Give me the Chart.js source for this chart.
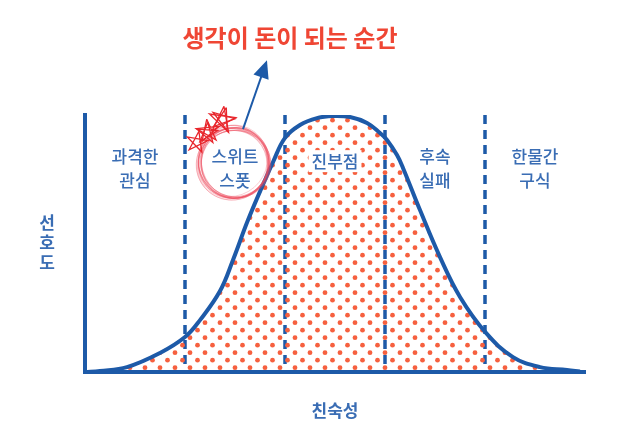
<!DOCTYPE html>
<html lang="ko">

<head>
  <meta charset="UTF-8">
  <title>친숙성과 선호도</title>
  <script src="https://cdn.jsdelivr.net/npm/chart.js"></script>
  <style>
    body { margin: 0; background: #fff; }
  </style>
</head>

<body>
  <canvas id="curveChart" width="625" height="431"></canvas>
  <script>
    // familiarity (x) and preference (y)
    const familiarity = [0, 0.3, 0.84, 1.5, 2.0, 2.3, 2.7, 2.96, 3.26, 3.6, 3.76, 4.0, 4.3, 4.64, 4.96, 5.3, 5.64, 5.9, 6.04, 6.24, 6.36, 6.7, 7.1, 7.5, 8.02, 8.56, 9.1, 9.64, 9.9]
    const preference = [0, 0.4, 1.9, 7.4, 13.6, 20.2, 31.5, 43.6, 59.1, 74.7, 81.7, 91.1, 96.1, 98.8, 99.6, 99.2, 96.9, 93.0, 90.3, 84.4, 79.4, 63.0, 44.7, 29.2, 15.2, 5.8, 1.9, 0.8, 0.2]
    const boundaries = [2, 4, 6, 8]
    const regionCenters = [1, 3, 5, 7, 9]
    const regionLabels = [['과격한', '관심'], ['스위트', '스폿'], ['진부점'], ['후속', '실패'], ['한물간', '구식']]
    const titleText = '생각이 돈이 되는 순간'
    const xTitle = '친숙성'
    const yTitle = ['선', '호', '도']

    const BLUE = '#1d5aa8'
    const TEXT_BLUE = '#3a6db4'
    const RED = '#ef4634'
    const FONT = '"Noto Sans CJK KR", "Noto Sans", sans-serif'

    // dotted fill, staggered rows
    const tile = document.createElement('canvas')
    tile.width = 15
    tile.height = 15
    const tctx = tile.getContext('2d')
    tctx.fillStyle = '#f6603f'
    ;[[10, 7.7], [2.5, 0.2]].forEach(([x, y]) => {
      for (const dx of [-15, 0, 15]) for (const dy of [-15, 0, 15]) {
        tctx.beginPath()
        tctx.arc(x + dx, y + dy, 2.4, 0, Math.PI * 2)
        tctx.fill()
      }
    })
    const ctx = document.getElementById('curveChart').getContext('2d')
    const dots = ctx.createPattern(tile, 'repeat')

    const star = (c, cx, cy, r, rot) => {
      c.beginPath()
      for (let k = 0; k <= 5; k++) {
        const a = (rot - 90 + k * 144) * Math.PI / 180
        const px = cx + r * Math.cos(a), py = cy + r * Math.sin(a)
        k === 0 ? c.moveTo(px, py) : c.lineTo(px, py)
      }
      c.stroke()
    }

    const overlay = {
      id: 'overlay',
      afterDraw(chart) {
        const c = chart.ctx
        const xs = chart.scales.x, ys = chart.scales.y
        c.save()
        c.textAlign = 'center'
        c.textBaseline = 'middle'

        // headline
        c.fillStyle = RED
        c.font = `bold 24px ${FONT}`
        c.fillText(titleText, xs.getPixelForValue(4.1), 38)

        // region labels
        c.font = `500 17px ${FONT}`
        regionLabels.forEach((lines, i) => {
          const px = xs.getPixelForValue(regionCenters[i])
          const top = ys.getPixelForValue(84) + (lines.length === 1 ? 5 : 0)
          lines.forEach((t, j) => {
            const w = c.measureText(t).width
            if (lines.length === 1) {
              c.fillStyle = '#fff'
              c.fillRect(px - w / 2 - 3, top + j * 24 - 11, w + 6, 22)
            }
            c.fillStyle = TEXT_BLUE
            c.fillText(t, px, top + j * 24)
          })
        })

        // axis titles
        c.font = `600 17px ${FONT}`
        c.fillText(xTitle, xs.getPixelForValue(5), chart.chartArea.bottom + 39)
        yTitle.forEach((t, j) => c.fillText(t, chart.chartArea.left - 38, ys.getPixelForValue(58) + j * 20))

        // sweet spot circle
        const cx = xs.getPixelForValue(2.98), cy = ys.getPixelForValue(81.3)
        c.lineWidth = 0.8
        for (let i = 0; i < 18; i++) {
          c.strokeStyle = 'rgba(235, 75, 95, 0.35)'
          c.beginPath()
          c.ellipse(cx + Math.sin(i * 1.7) * 1.4, cy + Math.cos(i * 2.3) * 1.4, 33 + (i % 5) * 0.9, 34 + (i % 4) * 0.9, i * 0.4, 0, Math.PI * 2)
          c.stroke()
        }

        // stars
        c.strokeStyle = '#e8262c'
        c.lineWidth = 1.3
        const sx = xs.getPixelForValue(2.74), sy = ys.getPixelForValue(98)
        star(c, sx, sy, 14, 8)
        star(c, sx + 1, sy - 1, 12, 16)
        star(c, sx - 14, sy + 11, 12, -6)
        star(c, sx - 15, sy + 13, 11, 4)
        star(c, sx - 25, sy + 22, 11, 10)

        // arrow
        const ax = xs.getPixelForValue(3.16), ay = ys.getPixelForValue(94.5)
        const bx = xs.getPixelForValue(3.58), by = ys.getPixelForValue(118)
        c.strokeStyle = BLUE
        c.fillStyle = BLUE
        c.lineWidth = 2
        c.beginPath()
        c.moveTo(ax, ay)
        c.lineTo(bx, by)
        c.stroke()
        const ang = Math.atan2(by - ay, bx - ax)
        const hx = bx + Math.cos(ang) * 9, hy = by + Math.sin(ang) * 9
        c.beginPath()
        c.moveTo(hx, hy)
        c.lineTo(hx - 18 * Math.cos(ang) + 8 * Math.sin(ang), hy - 18 * Math.sin(ang) - 8 * Math.cos(ang))
        c.lineTo(hx - 18 * Math.cos(ang) - 8 * Math.sin(ang), hy - 18 * Math.sin(ang) + 8 * Math.cos(ang))
        c.closePath()
        c.fill()
        c.restore()
      }
    }

    const dashed = boundaries.map(b => ({
      data: [{ x: b, y: 100 }, { x: b, y: 2 }],
      borderColor: BLUE,
      borderWidth: 3.5,
      borderDash: [9, 6],
      pointRadius: 0,
      fill: false,
      order: 1
    }))

    new Chart(ctx, {
      type: 'line',
      data: {
        datasets: [
          {
            data: familiarity.map((x, i) => ({ x, y: preference[i] })),
            borderColor: BLUE,
            borderWidth: 4,
            backgroundColor: dots,
            fill: 'origin',
            pointRadius: 0,
            tension: 0.4,
            order: 0
          },
          ...dashed
        ]
      },
      options: {
        responsive: false,
        animation: false,
        layout: { padding: { left: 85, right: 40, top: 115, bottom: 59 } },
        plugins: {
          legend: { display: false },
          tooltip: { enabled: false }
        },
        scales: {
          x: {
            type: 'linear', min: 0, max: 10,
            grid: { display: false }, ticks: { display: false },
            border: { color: BLUE, width: 4 },
            afterFit: s => { s.height = 0 }
          },
          y: {
            min: 0, max: 100,
            grid: { display: false }, ticks: { display: false },
            border: { color: BLUE, width: 4 },
            afterFit: s => { s.width = 0 }
          }
        }
      },
      plugins: [overlay]
    })
  </script>
</body>

</html>
